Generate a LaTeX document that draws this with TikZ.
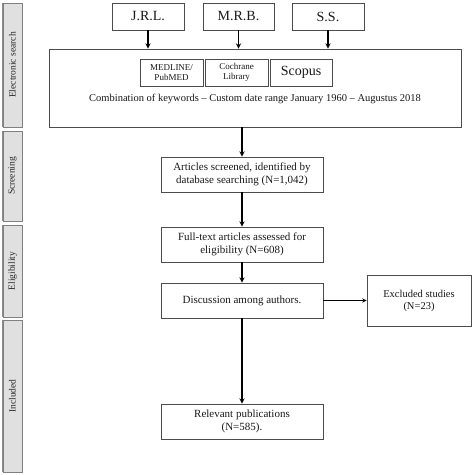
\documentclass[tikz,border=0pt]{standalone}
\usepackage{fontspec}
\setmainfont{Liberation Serif}
\tikzset{
  box/.style={draw=black!70,line width=0.9pt,align=center,text=black!90,inner sep=1pt},
  side/.style={draw=black!50,fill=black!12,line width=0.9pt,minimum width=19pt,inner sep=0pt},
  sidetext/.style={rotate=90,font=\fontsize{9.5}{10}\selectfont,text=black!85},
  arr/.style={-stealth,line width=1.3pt,black}
}
\begin{document}
\begin{tikzpicture}[x=1pt,y=-1pt]
  \useasboundingbox[fill=white] (0,0) rectangle (474,475);
  % sidebar
  \node[side,minimum height=124pt] (elec) at (12.5,65) {};
  \node[sidetext] at (elec) {Electronic search};
  \node[side,minimum height=90pt] (scr) at (12.5,176) {};
  \node[sidetext] at (scr) {Screening};
  \node[side,minimum height=92pt] (eli) at (12.5,271) {};
  \node[sidetext] at (eli) {Eligibility};
  \node[side,minimum height=152pt] (inc) at (12.5,396) {};
  \node[sidetext] at (inc) {Included};
  \foreach \s in {elec,scr,eli,inc}
    \draw[black!45,line width=1.6pt] (\s.north west) -- (\s.south west);
  % reviewers
  \node[box,minimum width=72pt,minimum height=27pt,font=\fontsize{14}{16}\selectfont] (jrl) at (148,16.5) {J.R.L.};
  \node[box,minimum width=71pt,minimum height=27pt,font=\fontsize{14}{16}\selectfont] (mrb) at (238.5,16.5) {M.R.B.};
  \node[box,minimum width=72pt,minimum height=27pt,font=\fontsize{14}{16}\selectfont] (ss) at (328,16.5) {S.S.};
  % databases
  \node[box,minimum width=412pt,minimum height=78pt] (search) at (255,88) {};
  \node[box,minimum width=63pt,minimum height=27pt,font=\fontsize{9}{9.5}\selectfont] (medline) at (171.5,72.5) {MEDLINE/\\PubMED};
  \node[box,minimum width=63pt,minimum height=27pt,font=\fontsize{9}{9.5}\selectfont] (cochrane) at (236.5,72.5) {Cochrane\\Library};
  \node[box,minimum width=62pt,minimum height=27pt,font=\fontsize{14}{16}\selectfont] (scopus) at (301,72.5) {Scopus};
  \node[font=\fontsize{10.5}{12}\selectfont,text=black!90] (keys) at (255,99) {Combination of keywords – Custom date range January 1960 – Augustus 2018};
  % flow
  \node[box,minimum width=162pt,minimum height=35pt,font=\fontsize{11}{12.5}\selectfont] (screened) at (242,174.5) {Articles screened, identified by\\database searching (N=1,042)};
  \node[box,minimum width=162pt,minimum height=35pt,font=\fontsize{11}{12.5}\selectfont] (fulltext) at (242,244.5) {Full-text articles assessed for\\eligibility (N=608)};
  \node[box,minimum width=162pt,minimum height=35pt,font=\fontsize{11}{12.5}\selectfont] (discuss) at (242,300.5) {Discussion among authors.};
  \node[box,minimum width=104pt,minimum height=51pt,font=\fontsize{10.5}{12}\selectfont] (excluded) at (419,300.5) {Excluded studies\\(N=23)};
  \node[box,minimum width=162pt,minimum height=35pt,font=\fontsize{11}{12.5}\selectfont] (relevant) at (242,421.5) {Relevant publications\\(N=585).};
  % arrows
  \draw[arr] (jrl.south) -- (jrl.south |- search.north);
  \draw[arr] (mrb.south) -- (mrb.south |- search.north);
  \draw[arr] (ss.south) -- (ss.south |- search.north);
  \draw[arr] (screened.north |- search.south) -- (screened.north);
  \draw[arr] (screened) -- (fulltext);
  \draw[arr] (fulltext) -- (discuss);
  \draw[arr] (discuss) -- (relevant);
  \draw[-stealth,line width=0.9pt] (discuss) -- (excluded);
\end{tikzpicture}
\end{document}
